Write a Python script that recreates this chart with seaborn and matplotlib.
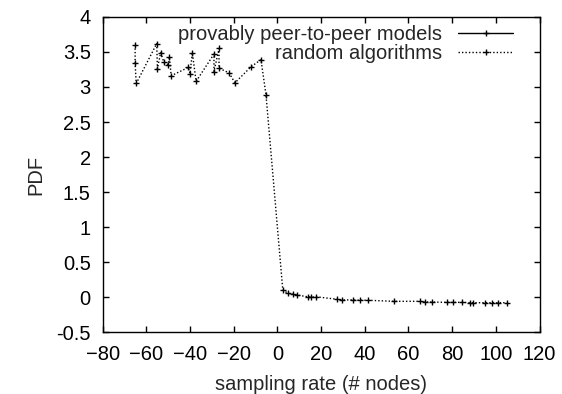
import matplotlib
matplotlib.use("Agg")
import matplotlib.pyplot as plt
import seaborn as sns

# sampling rate vs PDF
p2p_x = []
p2p_y = []

rand_x = [-65.1, -65.1, -64.6, -55.2, -54.9, -53.4, -51.9, -49.9, -49.4, -48.6,
          -40.7, -40.0, -38.9, -37.2, -29.0, -29.0, -26.7, -26.7, -22.1, -19.4,
          -12.0, -7.5, -5.2, 2.5, 5.0, 7.3, 8.9, 13.9, 15.3, 17.7,
          27.2, 29.5, 34.8, 37.8, 41.4, 53.4, 65.3, 67.6, 70.7, 77.5,
          80.5, 84.4, 88.2, 89.7, 95.1, 98.1, 101.1, 105.0]
rand_y = [3.60, 3.34, 3.05, 3.62, 3.26, 3.49, 3.35, 3.32, 3.43, 3.16,
          3.28, 3.19, 3.49, 3.08, 3.47, 3.22, 3.55, 3.27, 3.20, 3.06,
          3.29, 3.39, 2.89, 0.10, 0.053, 0.04, 0.03, 0.005, 0.0, 0.005,
          -0.03, -0.04, -0.04, -0.045, -0.045, -0.06, -0.06, -0.07, -0.07, -0.075,
          -0.075, -0.075, -0.08, -0.08, -0.08, -0.08, -0.08, -0.08]

sns.set_style("ticks")
plt.rcParams['font.family'] = ['Liberation Sans', 'DejaVu Sans']
fs = 14.5

fig = plt.figure(figsize=(5.62, 3.94), dpi=100)
ax = fig.add_axes([0.1825, 0.157, 0.7775, 0.8])

# first series has no points inside the plotted range, only its legend entry
ax.plot(p2p_x, p2p_y, color='black', linewidth=1, marker='+',
        markersize=4.5, markeredgewidth=1, label='provably peer-to-peer models')
sns.lineplot(x=rand_x, y=rand_y, ax=ax, color='black', linewidth=1,
             linestyle=(0, (1, 1.5)), marker='+', markersize=4.5,
             markeredgewidth=1, markeredgecolor='black',
             estimator=None, sort=False, label='random algorithms')

ax.set_xlim(-80, 120)
ax.set_ylim(-0.5, 4)
ax.set_xticks(range(-80, 121, 20))
ax.set_yticks([-0.5, 0, 0.5, 1, 1.5, 2, 2.5, 3, 3.5, 4])
ax.set_yticklabels(['-0.5', '0', '0.5', '1', '1.5', '2', '2.5', '3', '3.5', '4'])
ax.tick_params(direction='in', length=4, width=1, top=True, right=True,
               labelsize=fs, colors='black')
ax.tick_params(axis='y', pad=8.5)
ax.tick_params(axis='x', pad=9)
for s in ax.spines.values():
    s.set_visible(True)
    s.set_linewidth(1)
    s.set_color('black')

ax.set_xlabel('sampling rate (# nodes)', fontsize=fs, labelpad=8)
ax.set_ylabel('PDF', fontsize=fs, labelpad=7.5)

ax.legend(loc='upper right', bbox_to_anchor=(0.939, 0.975), frameon=False,
          markerfirst=False, fontsize=fs, handlelength=2.7, borderpad=0,
          borderaxespad=0, labelspacing=0.0, handletextpad=0.8)

fig.savefig('out.png', dpi=100)
